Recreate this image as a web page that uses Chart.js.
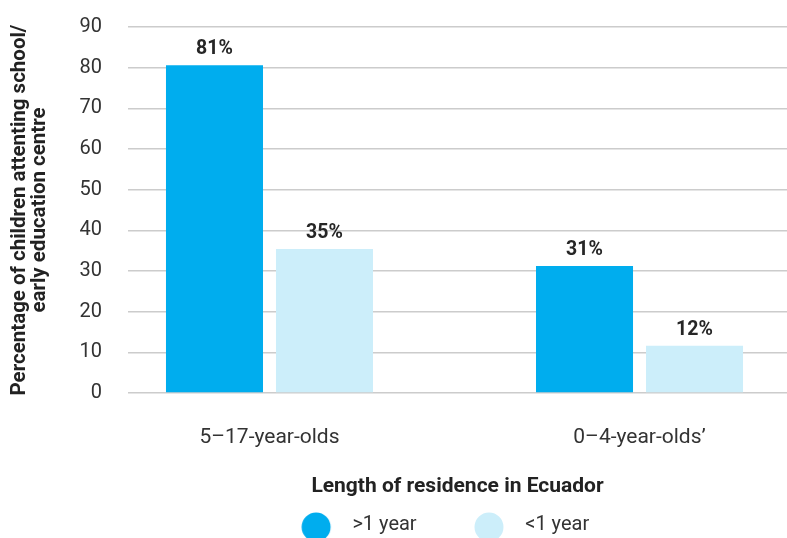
<!DOCTYPE html>
<html>
<head>
<meta charset="utf-8">
<style>
html,body{margin:0;padding:0;overflow:hidden;background:#fff;}
canvas{display:block;}
</style>
<script src="https://cdn.jsdelivr.net/npm/chart.js@4.4.1/dist/chart.umd.min.js"></script>
</head>
<body>
<canvas id="c" width="843" height="545"></canvas>
<script>
const categories = ['5\u201317-year-olds', '0\u20134-year-olds\u2019'];
const seriesNames = ['>1 year', '<1 year'];
const moreThanOneYear = [80.6, 31.2];
const lessThanOneYear = [35.4, 11.6];
const yTicks = [0, 10, 20, 30, 40, 50, 60, 70, 80, 90];
const colors = ['#00ADEE', '#CCEEFA'];

function makeDot(color) {
  const c = document.createElement('canvas');
  c.width = 70; c.height = 34;
  const g = c.getContext('2d');
  g.fillStyle = color;
  g.beginPath();
  g.arc(53, 19, 14.5, 0, Math.PI * 2);
  g.fill();
  return c;
}

const valueLabels = {
  id: 'valueLabels',
  afterDatasetsDraw(chart) {
    const ctx = chart.ctx;
    ctx.save();
    ctx.font = 'bold 19.5px Roboto';
    ctx.fillStyle = '#262626';
    ctx.textAlign = 'center';
    ctx.textBaseline = 'alphabetic';
    chart.data.datasets.forEach((ds, di) => {
      const meta = chart.getDatasetMeta(di);
      meta.data.forEach((el, i) => {
        const v = ds.data[i].y;
        ctx.fillText(Math.round(v) + '%', el.x, el.y - 11);
      });
    });
    ctx.restore();
  }
};

const toPoints = arr => arr.map((v, i) => ({x: i, y: v}));

new Chart(document.getElementById('c'), {
  type: 'bar',
  data: {
    datasets: [
      {label: seriesNames[0], data: toPoints(moreThanOneYear), backgroundColor: colors[0], pointStyle: makeDot(colors[0])},
      {label: seriesNames[1], data: toPoints(lessThanOneYear), backgroundColor: colors[1], pointStyle: makeDot(colors[1])}
    ]
  },
  options: {
    responsive: false,
    animation: false,
    devicePixelRatio: 1,
    layout: {padding: {top: 27, left: 0, right: 0, bottom: 0}},
    categoryPercentage: 0.5946,
    barPercentage: 0.882,
    plugins: {
      tooltip: {enabled: false},
      legend: {
        position: 'bottom',
        labels: {
          usePointStyle: true,
          pointStyleWidth: 88.6,
          padding: 10,
          color: '#333333',
          font: {family: 'Roboto', size: 20}
        }
      }
    },
    scales: {
      x: {
        type: 'linear',
        offset: false,
        min: -0.3824,
        max: 1.3986,
        afterBuildTicks: s => { s.ticks = categories.map((_, i) => ({value: i})); },
        grid: {display: true, drawOnChartArea: false, drawTicks: true, tickLength: 32, tickColor: 'rgba(0,0,0,0)', color: 'rgba(0,0,0,0)'},
        border: {display: false},
        ticks: {
          autoSkip: false,
          maxRotation: 0,
          padding: 0,
          color: '#333333',
          font: {family: 'Roboto', size: 21},
          callback: v => categories[v]
        },
        title: {
          display: true,
          text: 'Length of residence in Ecuador',
          color: '#222222',
          font: {family: 'Roboto', size: 21, weight: 'bold'},
          padding: {top: 24.2, bottom: 5.4}
        }
      },
      y: {
        min: 0,
        max: 90,
        afterBuildTicks: s => { s.ticks = yTicks.map(v => ({value: v})); },
        afterFit: s => { s.width = 128; },
        grid: {color: '#cccccc', lineWidth: 1.5, drawTicks: true, tickLength: 26, tickColor: 'rgba(0,0,0,0)'},
        border: {display: false},
        ticks: {
          padding: 0,
          color: '#333333',
          font: {family: 'Roboto', size: 20}
        },
        title: {
          display: true,
          text: ['Percentage of children attenting school/', 'early education centre'],
          color: '#222222',
          font: {family: 'Roboto', size: 20.5, weight: 'bold', lineHeight: 0.95},
          padding: {top: 10.3, bottom: 0}
        }
      },
      yRight: {
        position: 'right',
        display: true,
        afterFit: s => { s.width = 56; },
        grid: {display: false},
        border: {display: false},
        ticks: {display: false}
      }
    }
  },
  plugins: [valueLabels]
});
</script>
</body>
</html>
